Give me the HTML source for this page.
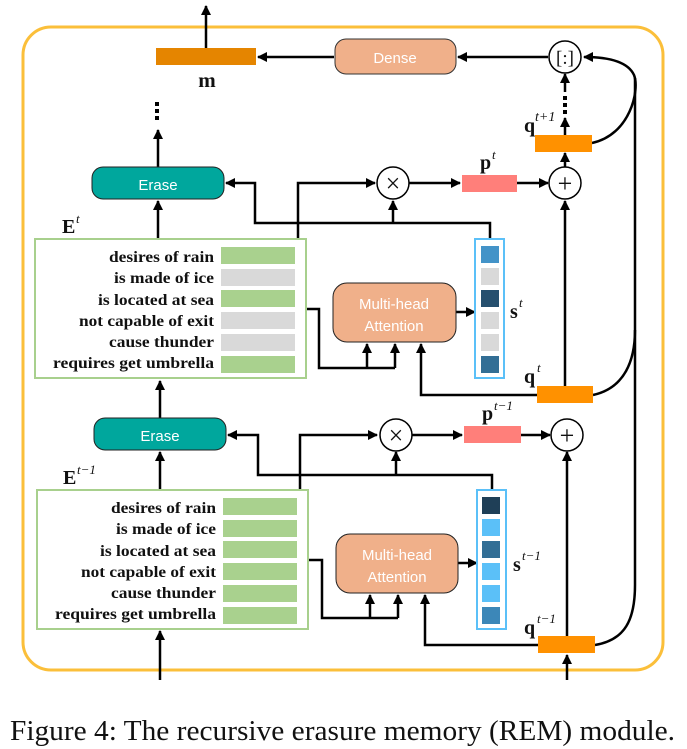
<!DOCTYPE html>
<html><head><meta charset="utf-8"><style>
html,body{margin:0;padding:0;background:#fff;}
svg{display:block;}
.lab{font-family:"Liberation Serif",serif;font-weight:bold;font-size:16px;fill:#111;}
.sans{font-family:"Liberation Sans",sans-serif;fill:#fff;font-size:15px;}
.ser{font-family:"Liberation Serif",serif;fill:#111;}
</style></head><body>
<svg width="687" height="749" viewBox="0 0 687 749" xmlns="http://www.w3.org/2000/svg">
<defs>
<marker id="a" markerWidth="10" markerHeight="10" refX="9" refY="5" orient="auto" markerUnits="userSpaceOnUse">
<path d="M0,0 L10,5 L0,10 z" fill="#000"/></marker>
</defs>
<rect x="23" y="27" width="640" height="643" rx="28" fill="none" stroke="#fbbf3a" stroke-width="3"/>
<g stroke="#000" stroke-width="2.5" fill="none">
<line x1="206" y1="48" x2="206" y2="6" marker-end="url(#a)"/>
<line x1="334" y1="57" x2="258" y2="57" marker-end="url(#a)"/>
<line x1="548" y1="57" x2="458" y2="57" marker-end="url(#a)"/>
<line x1="565" y1="92" x2="565" y2="74" marker-end="url(#a)"/>
<line x1="565" y1="135" x2="565" y2="118" marker-end="url(#a)"/>
<line x1="565" y1="167" x2="565" y2="153" marker-end="url(#a)"/>
<path d="M592,143 C630,135 640,90 634,75 C628,62 610,57 584,57" marker-end="url(#a)"/>
<path d="M635,78 L635,585 C635,620 625,640 595,645"/>
<path d="M593,395 C625,388 635,360 635,330"/>
<line x1="158" y1="167" x2="158" y2="130" marker-end="url(#a)"/>
<line x1="158" y1="238" x2="158" y2="201" marker-end="url(#a)"/>
<polyline points="298,238 298,183 375,183" marker-end="url(#a)"/>
<polyline points="490,238 490,223 255,223 255,183 226,183" marker-end="url(#a)"/>
<line x1="393" y1="223" x2="393" y2="201" marker-end="url(#a)"/>
<line x1="409" y1="183" x2="460" y2="183" marker-end="url(#a)"/>
<line x1="517" y1="183" x2="548" y2="183" marker-end="url(#a)"/>
<line x1="565" y1="386" x2="565" y2="201" marker-end="url(#a)"/>
<polyline points="306,309 319,309 319,368 395,368"/>
<line x1="367" y1="368" x2="367" y2="344" marker-end="url(#a)"/>
<line x1="395" y1="368" x2="395" y2="344" marker-end="url(#a)"/>
<polyline points="537,395 421,395 421,344" marker-end="url(#a)"/>
<line x1="456" y1="312" x2="475" y2="312" marker-end="url(#a)"/>
<line x1="160" y1="418" x2="160" y2="381" marker-end="url(#a)"/>
<line x1="160" y1="490" x2="160" y2="452" marker-end="url(#a)"/>
<polyline points="300,490 300,435 377,435" marker-end="url(#a)"/>
<polyline points="492,490 492,475 258,475 258,435 228,435" marker-end="url(#a)"/>
<line x1="396" y1="475" x2="396" y2="452" marker-end="url(#a)"/>
<line x1="412" y1="435" x2="462" y2="435" marker-end="url(#a)"/>
<line x1="521" y1="435" x2="550" y2="435" marker-end="url(#a)"/>
<line x1="567" y1="636" x2="567" y2="452" marker-end="url(#a)"/>
<polyline points="308,560 322,560 322,618 398,618"/>
<line x1="370" y1="618" x2="370" y2="595" marker-end="url(#a)"/>
<line x1="398" y1="618" x2="398" y2="595" marker-end="url(#a)"/>
<polyline points="538,645 425,645 425,595" marker-end="url(#a)"/>
<line x1="458" y1="563" x2="477" y2="563" marker-end="url(#a)"/>
<line x1="160" y1="680" x2="160" y2="631" marker-end="url(#a)"/>
<line x1="567" y1="680" x2="567" y2="655" marker-end="url(#a)"/>
</g>
<g fill="#000">
<rect x="155" y="102" width="4" height="4"/><rect x="155" y="109" width="4" height="4"/><rect x="155" y="116" width="4" height="4"/>
<rect x="563" y="96" width="4" height="4"/><rect x="563" y="103" width="4" height="4"/><rect x="563" y="110" width="4" height="4"/>
</g>
<rect x="156" y="48" width="100" height="17" fill="#e58500"/>
<text x="207" y="87" class="ser" font-size="21" font-weight="bold" text-anchor="middle">m</text>
<rect x="335" y="39" width="121" height="35" rx="11" fill="#f0b08a" stroke="#333" stroke-width="1"/>
<text x="395" y="63" class="sans" text-anchor="middle" font-size="16">Dense</text>
<circle cx="565" cy="57" r="16" fill="#fff" stroke="#000" stroke-width="1.5"/>
<text x="565" y="64" class="ser" font-size="19" text-anchor="middle">[:]</text>
<rect x="535" y="135" width="57" height="17" fill="#ff9100"/>
<text x="524" y="132" class="ser" font-size="20" font-weight="bold">q</text><text x="535" y="121" class="ser" font-size="14" font-style="italic">t+1</text>
<rect x="92" y="167" width="132" height="32" rx="11" fill="#00a79d" stroke="#222" stroke-width="1"/>
<text x="158" y="190" class="sans" text-anchor="middle" font-size="16">Erase</text>
<circle cx="393" cy="183" r="16" fill="#fff" stroke="#000" stroke-width="1.5"/>
<text x="393" y="192" class="ser" font-size="26" text-anchor="middle">×</text>
<rect x="462" y="175" width="55" height="17" fill="#ff7f7a"/>
<text x="480" y="169" class="ser" font-size="20" font-weight="bold">p</text><text x="492" y="159" class="ser" font-size="13" font-style="italic">t</text>
<circle cx="565" cy="183" r="16" fill="#fff" stroke="#000" stroke-width="1.5"/>
<text x="565" y="192" class="ser" font-size="26" text-anchor="middle">+</text>
<text x="62" y="233" class="ser" font-size="20" font-weight="bold">E</text><text x="76" y="223" class="ser" font-size="13" font-style="italic">t</text>
<rect x="35" y="239" width="271" height="139" fill="#fff" stroke="#a8d08d" stroke-width="2"/>
<g class="lab" text-anchor="end">
<text x="214" y="262" textLength="105" lengthAdjust="spacingAndGlyphs">desires of rain</text><text x="214" y="283" textLength="100" lengthAdjust="spacingAndGlyphs">is made of ice</text><text x="214" y="305" textLength="116" lengthAdjust="spacingAndGlyphs">is located at sea</text><text x="214" y="326" textLength="135" lengthAdjust="spacingAndGlyphs">not capable of exit</text><text x="214" y="347" textLength="105" lengthAdjust="spacingAndGlyphs">cause thunder</text><text x="214" y="368" textLength="161" lengthAdjust="spacingAndGlyphs">requires get umbrella</text>
</g>
<rect x="221" y="247" width="74" height="17" fill="#a9d18e"/>
<rect x="221" y="269" width="74" height="17" fill="#d9d9d9"/>
<rect x="221" y="290" width="74" height="17" fill="#a9d18e"/>
<rect x="221" y="312" width="74" height="17" fill="#d9d9d9"/>
<rect x="221" y="334" width="74" height="17" fill="#d9d9d9"/>
<rect x="221" y="356" width="74" height="17" fill="#a9d18e"/>
<rect x="333" y="283" width="123" height="59" rx="14" fill="#f0b08a" stroke="#222" stroke-width="1"/>
<text x="394" y="309" class="sans" text-anchor="middle" font-size="17">Multi-head</text>
<text x="394" y="331" class="sans" text-anchor="middle" font-size="17">Attention</text>
<rect x="475" y="239" width="29" height="139" fill="#fff" stroke="#5bc0f8" stroke-width="2"/>
<rect x="481" y="246" width="18" height="17" fill="#4393c8"/>
<rect x="481" y="268" width="18" height="17" fill="#d9d9d9"/>
<rect x="481" y="290" width="18" height="17" fill="#264f6e"/>
<rect x="481" y="312" width="18" height="17" fill="#d9d9d9"/>
<rect x="481" y="334" width="18" height="17" fill="#d9d9d9"/>
<rect x="481" y="356" width="18" height="17" fill="#326e95"/>
<text x="510" y="318" class="ser" font-size="20" font-weight="bold">s</text><text x="519" y="307" class="ser" font-size="13" font-style="italic">t</text>
<rect x="537" y="386" width="56" height="17" fill="#ff9100"/>
<text x="524" y="383" class="ser" font-size="20" font-weight="bold">q</text><text x="537" y="372" class="ser" font-size="13" font-style="italic">t</text>
<rect x="94" y="418" width="132" height="32" rx="11" fill="#00a79d" stroke="#222" stroke-width="1"/>
<text x="160" y="441" class="sans" text-anchor="middle" font-size="16">Erase</text>
<circle cx="396" cy="435" r="16" fill="#fff" stroke="#000" stroke-width="1.5"/>
<text x="396" y="444" class="ser" font-size="26" text-anchor="middle">×</text>
<rect x="464" y="426" width="57" height="17" fill="#ff7f7a"/>
<text x="482" y="420" class="ser" font-size="20" font-weight="bold">p</text><text x="494" y="410" class="ser" font-size="13" font-style="italic">t−1</text>
<circle cx="567" cy="435" r="16" fill="#fff" stroke="#000" stroke-width="1.5"/>
<text x="567" y="444" class="ser" font-size="26" text-anchor="middle">+</text>
<text x="63" y="484" class="ser" font-size="20" font-weight="bold">E</text><text x="77" y="474" class="ser" font-size="13" font-style="italic">t−1</text>
<rect x="37" y="490" width="271" height="139" fill="#fff" stroke="#a8d08d" stroke-width="2"/>
<g class="lab" text-anchor="end">
<text x="216" y="513" textLength="105" lengthAdjust="spacingAndGlyphs">desires of rain</text><text x="216" y="534" textLength="100" lengthAdjust="spacingAndGlyphs">is made of ice</text><text x="216" y="556" textLength="116" lengthAdjust="spacingAndGlyphs">is located at sea</text><text x="216" y="577" textLength="135" lengthAdjust="spacingAndGlyphs">not capable of exit</text><text x="216" y="598" textLength="105" lengthAdjust="spacingAndGlyphs">cause thunder</text><text x="216" y="619" textLength="161" lengthAdjust="spacingAndGlyphs">requires get umbrella</text>
</g>
<rect x="223" y="498" width="74" height="17" fill="#a9d18e"/>
<rect x="223" y="520" width="74" height="17" fill="#a9d18e"/>
<rect x="223" y="541" width="74" height="17" fill="#a9d18e"/>
<rect x="223" y="563" width="74" height="17" fill="#a9d18e"/>
<rect x="223" y="585" width="74" height="17" fill="#a9d18e"/>
<rect x="223" y="607" width="74" height="17" fill="#a9d18e"/>
<rect x="336" y="534" width="122" height="59" rx="14" fill="#f0b08a" stroke="#222" stroke-width="1"/>
<text x="397" y="560" class="sans" text-anchor="middle" font-size="17">Multi-head</text>
<text x="397" y="582" class="sans" text-anchor="middle" font-size="17">Attention</text>
<rect x="477" y="490" width="29" height="139" fill="#fff" stroke="#5bc0f8" stroke-width="2"/>
<rect x="482" y="497" width="18" height="17" fill="#1f3f57"/>
<rect x="482" y="519" width="18" height="17" fill="#5bc0f8"/>
<rect x="482" y="541" width="18" height="17" fill="#326e95"/>
<rect x="482" y="563" width="18" height="17" fill="#5bc0f8"/>
<rect x="482" y="585" width="18" height="17" fill="#5bc0f8"/>
<rect x="482" y="607" width="18" height="17" fill="#3c87b8"/>
<text x="513" y="571" class="ser" font-size="20" font-weight="bold">s</text><text x="522" y="560" class="ser" font-size="13" font-style="italic">t−1</text>
<rect x="538" y="636" width="57" height="17" fill="#ff9100"/>
<text x="524" y="634" class="ser" font-size="20" font-weight="bold">q</text><text x="537" y="623" class="ser" font-size="13" font-style="italic">t−1</text>
<text x="10" y="740" class="ser" font-size="28" textLength="665" lengthAdjust="spacingAndGlyphs">Figure 4:  The recursive erasure memory (REM) module.</text>
</svg>
</body></html>
